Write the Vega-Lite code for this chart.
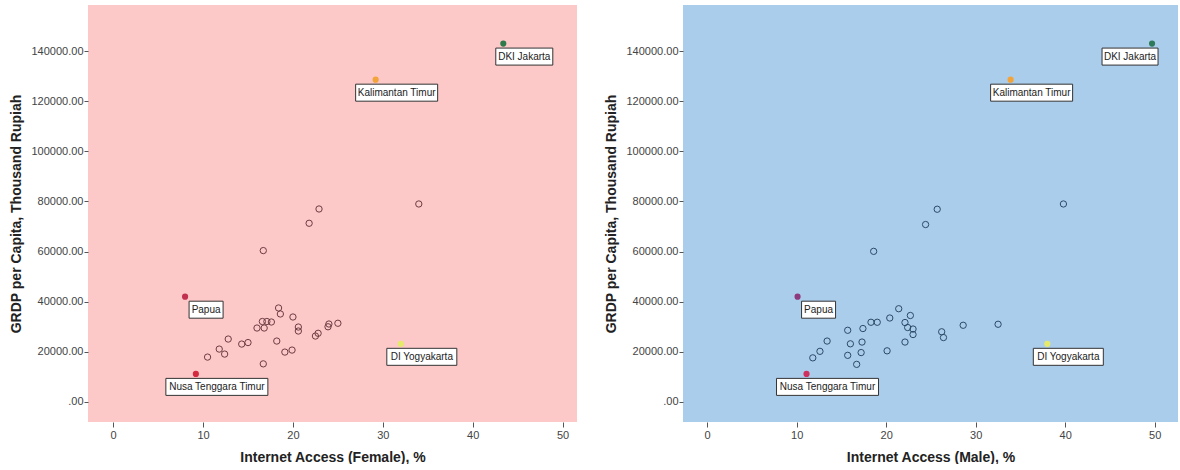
{
  "$schema": "https://vega.github.io/schema/vega-lite/v6.json",
  "background": "white",
  "padding": {"left": 9, "top": 5, "right": 0, "bottom": 0},
  "spacing": 27,
  "config": {
    "font": "Liberation Sans",
    "view": {"stroke": null},
    "axis": {
      "grid": false,
      "domain": false,
      "tickColor": "#555",
      "tickSize": 5,
      "labelColor": "#444",
      "labelFont": "Liberation Sans",
      "labelFontSize": 11,
      "titleFont": "Liberation Sans",
      "titleFontSize": 14,
      "titleFontWeight": "bold",
      "titleColor": "#222"
    },
    "axisY": {"tickSize": 4, "labelPadding": 1, "titlePadding": 8},
    "axisX": {"labelPadding": 2, "titlePadding": 10}
  },
  "datasets": {
    "female_other": [
      {"access": 16.7, "grdp": 60400}, {"access": 22.9, "grdp": 77000}, {"access": 21.8, "grdp": 71300},
      {"access": 34.0, "grdp": 79000}, {"access": 18.4, "grdp": 37500}, {"access": 18.6, "grdp": 35100},
      {"access": 20.0, "grdp": 33900}, {"access": 16.6, "grdp": 32100}, {"access": 17.1, "grdp": 32100},
      {"access": 17.6, "grdp": 31900}, {"access": 16.0, "grdp": 29500}, {"access": 16.8, "grdp": 29500},
      {"access": 20.6, "grdp": 29900}, {"access": 20.6, "grdp": 28300}, {"access": 22.5, "grdp": 26300},
      {"access": 22.8, "grdp": 27400}, {"access": 23.9, "grdp": 30000}, {"access": 24.0, "grdp": 31100},
      {"access": 25.0, "grdp": 31400}, {"access": 18.2, "grdp": 24300}, {"access": 19.1, "grdp": 19900},
      {"access": 19.9, "grdp": 20700}, {"access": 14.3, "grdp": 23100}, {"access": 15.0, "grdp": 23700},
      {"access": 12.8, "grdp": 25100}, {"access": 11.8, "grdp": 21100}, {"access": 12.4, "grdp": 19100},
      {"access": 10.5, "grdp": 17900}, {"access": 16.7, "grdp": 15200}
    ],
    "female_named": [
      {"province": "DKI Jakarta", "access": 43.4, "grdp": 143000},
      {"province": "Kalimantan Timur", "access": 29.2, "grdp": 128600},
      {"province": "Papua", "access": 8.0, "grdp": 42000},
      {"province": "Nusa Tenggara Timur", "access": 9.2, "grdp": 11200},
      {"province": "DI Yogyakarta", "access": 32.0, "grdp": 23200}
    ],
    "male_other": [
      {"access": 25.7, "grdp": 76900}, {"access": 24.4, "grdp": 70800}, {"access": 39.8, "grdp": 79000},
      {"access": 18.6, "grdp": 60100}, {"access": 21.4, "grdp": 37200}, {"access": 20.4, "grdp": 33500},
      {"access": 22.7, "grdp": 34500}, {"access": 22.1, "grdp": 31700}, {"access": 22.4, "grdp": 29700},
      {"access": 23.0, "grdp": 29100}, {"access": 23.0, "grdp": 26900}, {"access": 18.3, "grdp": 31800},
      {"access": 19.0, "grdp": 31800}, {"access": 17.4, "grdp": 29300}, {"access": 15.7, "grdp": 28600},
      {"access": 13.4, "grdp": 24300}, {"access": 12.6, "grdp": 20200}, {"access": 11.8, "grdp": 17600},
      {"access": 16.0, "grdp": 23200}, {"access": 17.3, "grdp": 23900}, {"access": 15.7, "grdp": 18600},
      {"access": 17.2, "grdp": 19700}, {"access": 16.7, "grdp": 15000}, {"access": 22.1, "grdp": 23900},
      {"access": 20.1, "grdp": 20400}, {"access": 26.2, "grdp": 28000}, {"access": 26.4, "grdp": 25700},
      {"access": 28.6, "grdp": 30600}, {"access": 32.5, "grdp": 31000}
    ],
    "male_named": [
      {"province": "DKI Jakarta", "access": 49.7, "grdp": 143000},
      {"province": "Kalimantan Timur", "access": 33.9, "grdp": 128600},
      {"province": "Papua", "access": 10.1, "grdp": 42000},
      {"province": "Nusa Tenggara Timur", "access": 11.1, "grdp": 11200},
      {"province": "DI Yogyakarta", "access": 38.0, "grdp": 23200}
    ]
  },
  "resolve": {"scale": {"shape": "independent", "color": "independent"}},
  "hconcat": [
    {
      "width": 489,
      "height": 417,
      "view": {"fill": "#fcc8c8", "stroke": null},
      "layer": [
        {
          "data": {"name": "female_other"},
          "mark": {"type": "point", "filled": false, "size": 40, "strokeWidth": 1, "color": "#6e3c42", "opacity": 1},
          "encoding": {
            "x": {
              "field": "access", "type": "quantitative",
              "scale": {"domain": [-2.8, 51.6], "nice": false, "zero": false},
              "axis": {"values": [0, 10, 20, 30, 40, 50], "title": "Internet Access (Female), %"}
            },
            "y": {
              "field": "grdp", "type": "quantitative",
              "scale": {"domain": [-8000, 158400], "nice": false, "zero": false},
              "axis": {
                "values": [0, 20000, 40000, 60000, 80000, 100000, 120000, 140000],
                "labelExpr": "datum.value === 0 ? '.00' : format(datum.value, '.2f')",
                "title": "GRDP per Capita, Thousand Rupiah"
              }
            }
          }
        },
        {
          "data": {"name": "female_named"},
          "mark": {"type": "circle", "size": 38, "opacity": 1},
          "encoding": {
            "x": {"field": "access", "type": "quantitative"},
            "y": {"field": "grdp", "type": "quantitative"},
            "color": {
              "field": "province", "type": "nominal", "legend": null,
              "scale": {
                "domain": ["DKI Jakarta", "Kalimantan Timur", "Papua", "Nusa Tenggara Timur", "DI Yogyakarta"],
                "range": ["#2f7a4a", "#f2a43a", "#c2304f", "#d42a3f", "#e6ea6a"]
              }
            }
          }
        },
        {
          "data": {"name": "female_named"},
          "mark": {"type": "point", "filled": true, "size": 4, "fill": "white", "stroke": "#333", "strokeWidth": 1, "opacity": 1},
          "encoding": {
            "x": {"field": "access", "type": "quantitative"},
            "y": {"field": "grdp", "type": "quantitative"},
            "shape": {
              "field": "province", "type": "nominal", "legend": null,
              "scale": {
                "domain": ["DKI Jakarta", "Kalimantan Timur", "Papua", "Nusa Tenggara Timur", "DI Yogyakarta"],
                "range": [
                  "M-7.5,4.5L49.5,4.5L49.5,21.5L-7.5,21.5Z",
                  "M-20,4.5L62,4.5L62,21.5L-20,21.5Z",
                  "M4,4.5L38,4.5L38,21.5L4,21.5Z",
                  "M-30,4.5L72,4.5L72,21.5L-30,21.5Z",
                  "M-14,4.5L56,4.5L56,21.5L-14,21.5Z"
                ]
              }
            }
          }
        },
        {
          "data": {"name": "female_named"},
          "mark": {"type": "text", "dx": 21, "dy": 13, "align": "center", "baseline": "middle", "fontSize": 10, "color": "#222"},
          "encoding": {
            "x": {"field": "access", "type": "quantitative"},
            "y": {"field": "grdp", "type": "quantitative"},
            "text": {"field": "province"}
          }
        }
      ]
    },
    {
      "width": 495,
      "height": 417,
      "view": {"fill": "#abcdec", "stroke": null},
      "layer": [
        {
          "data": {"name": "male_other"},
          "mark": {"type": "point", "filled": false, "size": 40, "strokeWidth": 1, "color": "#2c4a66", "opacity": 1},
          "encoding": {
            "x": {
              "field": "access", "type": "quantitative",
              "scale": {"domain": [-2.7, 52.6], "nice": false, "zero": false},
              "axis": {"values": [0, 10, 20, 30, 40, 50], "title": "Internet Access (Male), %"}
            },
            "y": {
              "field": "grdp", "type": "quantitative",
              "scale": {"domain": [-8000, 158400], "nice": false, "zero": false},
              "axis": {
                "values": [0, 20000, 40000, 60000, 80000, 100000, 120000, 140000],
                "labelExpr": "datum.value === 0 ? '.00' : format(datum.value, '.2f')",
                "title": "GRDP per Capita, Thousand Rupiah"
              }
            }
          }
        },
        {
          "data": {"name": "male_named"},
          "mark": {"type": "circle", "size": 38, "opacity": 1},
          "encoding": {
            "x": {"field": "access", "type": "quantitative"},
            "y": {"field": "grdp", "type": "quantitative"},
            "color": {
              "field": "province", "type": "nominal", "legend": null,
              "scale": {
                "domain": ["DKI Jakarta", "Kalimantan Timur", "Papua", "Nusa Tenggara Timur", "DI Yogyakarta"],
                "range": ["#2f7a5a", "#f2a43a", "#8e3a7e", "#d0305e", "#e6ea6a"]
              }
            }
          }
        },
        {
          "data": {"name": "male_named"},
          "mark": {"type": "point", "filled": true, "size": 4, "fill": "white", "stroke": "#333", "strokeWidth": 1, "opacity": 1},
          "encoding": {
            "x": {"field": "access", "type": "quantitative"},
            "y": {"field": "grdp", "type": "quantitative"},
            "shape": {
              "field": "province", "type": "nominal", "legend": null,
              "scale": {
                "domain": ["DKI Jakarta", "Kalimantan Timur", "Papua", "Nusa Tenggara Timur", "DI Yogyakarta"],
                "range": [
                  "M-50,4.5L6,4.5L6,21.5L-50,21.5Z",
                  "M-20,4.5L62,4.5L62,21.5L-20,21.5Z",
                  "M4,4.5L38,4.5L38,21.5L4,21.5Z",
                  "M-30,4.5L72,4.5L72,21.5L-30,21.5Z",
                  "M-14,4.5L56,4.5L56,21.5L-14,21.5Z"
                ]
              }
            }
          }
        },
        {
          "data": {"name": "male_named"},
          "transform": [{"filter": "datum.province !== 'DKI Jakarta'"}],
          "mark": {"type": "text", "dx": 21, "dy": 13, "align": "center", "baseline": "middle", "fontSize": 10, "color": "#222"},
          "encoding": {
            "x": {"field": "access", "type": "quantitative"},
            "y": {"field": "grdp", "type": "quantitative"},
            "text": {"field": "province"}
          }
        },
        {
          "data": {"name": "male_named"},
          "transform": [{"filter": "datum.province === 'DKI Jakarta'"}],
          "mark": {"type": "text", "dx": -22, "dy": 13, "align": "center", "baseline": "middle", "fontSize": 10, "color": "#222"},
          "encoding": {
            "x": {"field": "access", "type": "quantitative"},
            "y": {"field": "grdp", "type": "quantitative"},
            "text": {"field": "province"}
          }
        }
      ]
    }
  ]
}
